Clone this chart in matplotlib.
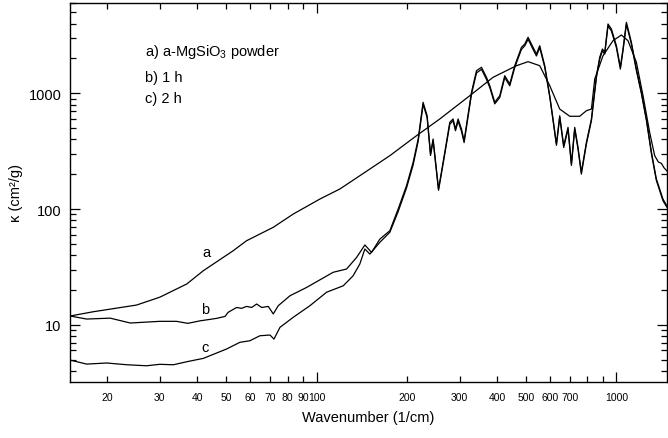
import matplotlib
matplotlib.use("Agg")
import matplotlib.pyplot as plt
from matplotlib.ticker import FixedLocator, FixedFormatter, NullFormatter

plt.rcParams['font.family'] = ['Liberation Sans', 'DejaVu Sans']
plt.rcParams['mathtext.fontset'] = 'custom'
plt.rcParams['mathtext.rm'] = 'Liberation Sans'
plt.rcParams['mathtext.it'] = 'Liberation Sans:italic'

# ---- data (wavenumber in 1/cm, kappa in cm^2/g) ----
a_x = [15.06, 18.0, 25.1, 30.0, 36.9, 41.9, 52.7, 58.4, 71.7, 83.6, 102.6, 119.6, 139.4,
       175.5, 215.4, 257.6, 324.3, 387.9, 464.2, 507.5, 555, 599.4, 647.1, 698.9, 754.6,
       794.3, 825.5, 846.8, 902.4, 974.2, 1039, 1093, 1166, 1227, 1291, 1342, 1380, 1413,
       1440, 1472]
a_y = [11.9, 12.95, 14.8, 17.3, 22.5, 29.3, 43.6, 53.2, 69.5, 90.5, 122, 149, 194,
       289, 430, 600, 953, 1375, 1732, 1876, 1732, 1163, 731, 633, 633,
       707, 731, 1329, 2113, 2849, 3190, 2849, 1854, 953, 460, 289, 255, 248,
       228, 214]

b_x = [15.06, 17.1, 20.5, 23.9, 30.0, 34.1, 37.2, 40.8, 46.4, 49.5, 50.7, 54.1, 56.2,
       58.4, 60.7, 63.1, 65.6, 69.0, 71.7, 74.5, 81.5, 92.6, 113.6, 125.9, 136, 144.9,
       152.5, 162.6, 175.5, 187.1, 199.5, 209.9, 218.2, 226.6, 233.7, 239.9, 244.7,
       255.1, 264.2, 278.2, 285.3, 290.6, 296.5, 304.3, 310.5, 328.6, 341.5, 354.8,
       368.7, 378.2, 392.9, 408.3, 424.3, 440.9, 458.1, 482.4, 494.8, 507.5, 527.2,
       541.2, 555, 576.8, 599.4, 614.6, 631, 647.1, 667.3, 689.7, 707.9, 726.1, 744.7,
       764.1, 794.3, 825.5, 857.8, 879.8, 898.2, 914.3, 937.6, 962.3, 1000, 1031, 1052,
       1080, 1122, 1166, 1212, 1259, 1309, 1359, 1430, 1472]
b_y = [11.9, 11.2, 11.4, 10.35, 10.7, 10.7, 10.28, 10.8, 11.35, 11.8, 12.8, 14.1, 13.85,
       14.4, 14.1, 15.1, 14.1, 14.4, 12.4, 14.6, 17.8, 21.0, 28.4, 30.3, 38.2, 48.9,
       42.2, 55.0, 64.9, 100, 159, 253, 403, 836, 640, 299, 403,
       149, 253, 562, 600, 491, 600, 491, 389, 1020, 1568, 1678,
       1375, 1163, 836, 953, 1419, 1203, 1732, 2498, 2668, 3048, 2498,
       2186, 2579, 1732, 953, 600, 365, 640, 352, 508, 245, 508, 341,
       208, 377, 600, 1419, 2047, 2415, 2261, 3972, 3594, 2579, 1678, 2415,
       4109, 2759, 1622, 1020, 600, 309, 182, 122, 107]

c_x = [15.06, 17.1, 19.95, 23.3, 27.1, 30.0, 33.3, 36.9, 41.9, 50.1, 55.5, 59.9, 64.7,
       69.9, 72.1, 75.5, 83.6, 95.0, 108.0, 122.7, 132.4, 139.4, 144.9, 150.6, 162.6,
       175.5, 187.1, 199.5, 209.9, 218.2, 226.6, 233.7, 239.9, 244.7,
       255.1, 264.2, 278.2, 285.3, 290.6, 296.5, 304.3, 310.5, 328.6, 341.5, 354.8,
       368.7, 378.2, 392.9, 408.3, 424.3, 440.9, 458.1, 482.4, 494.8, 507.5, 527.2,
       541.2, 555, 576.8, 599.4, 614.6, 631, 647.1, 667.3, 689.7, 707.9, 726.1, 744.7,
       764.1, 794.3, 825.5, 857.8, 879.8, 898.2, 914.3, 937.6, 962.3, 1000, 1031, 1052,
       1080, 1122, 1166, 1212, 1259, 1309, 1359, 1430, 1472]
c_y = [4.95, 4.57, 4.67, 4.51, 4.42, 4.55, 4.51, 4.79, 5.12, 6.17, 7.05, 7.27, 8.03,
       8.15, 7.52, 9.5, 11.6, 14.6, 19.1, 21.7, 26.5, 33.5, 45.1, 40.8, 51.6,
       62.9, 95, 152, 240, 385, 800, 620, 290, 390,
       145, 245, 540, 580, 475, 575, 470, 375, 980, 1500, 1610,
       1320, 1120, 810, 920, 1370, 1160, 1670, 2400, 2570, 2930, 2400,
       2100, 2480, 1680, 930, 585, 355, 620, 340, 490, 238, 490, 330,
       200, 365, 580, 1370, 1970, 2330, 2180, 3820, 3460, 2480, 1620, 2330,
       3950, 2660, 1570, 990, 585, 300, 177, 118, 104]

x_major = [100, 1000]
x_minor = [20, 30, 40, 50, 60, 70, 80, 90, 200, 300, 400, 500, 600, 700, 800, 900]
x_minor_labels = ['20', '30', '40', '50', '60', '70', '80', '90',
                  '200', '300', '400', '500', '600', '700', '', '']
y_major = [10, 100, 1000]
y_minor = [4, 5, 6, 7, 8, 9, 20, 30, 40, 50, 60, 70, 80, 90,
           200, 300, 400, 500, 600, 700, 800, 900, 2000, 3000, 4000, 5000, 6000]

legend_lines = ['a) a-MgSiO$_3$ powder', 'b) 1 h', 'c) 2 h']
curve_labels = [('a', 42.8, 42.3), ('b', 42.4, 13.7), ('c', 42.4, 6.38)]

# ---- figure ----
fig = plt.figure(figsize=(6.68, 4.39), dpi=100)
ax = fig.add_axes([70/668, 1 - 383/439, 597/668, 379/439])

lw = 0.9
ax.plot(a_x, a_y, color='black', lw=lw)
ax.plot(b_x, b_y, color='black', lw=lw)
ax.plot(c_x, c_y, color='black', lw=lw)

ax.set_xscale('log')
ax.set_yscale('log')
ax.set_xlim(15.05, 1475)
ax.set_ylim(3.2, 6030)

ax.xaxis.set_major_locator(FixedLocator(x_major))
ax.xaxis.set_major_formatter(FixedFormatter(['100', '1000']))
ax.xaxis.set_minor_locator(FixedLocator(x_minor))
ax.xaxis.set_minor_formatter(FixedFormatter(x_minor_labels))
ax.yaxis.set_major_locator(FixedLocator(y_major))
ax.yaxis.set_major_formatter(FixedFormatter(['10', '100', '1000']))
ax.yaxis.set_minor_locator(FixedLocator(y_minor))
ax.yaxis.set_minor_formatter(NullFormatter())

ax.tick_params(axis='x', which='both', direction='in', top=True, bottom=True,
               labelsize=7.5, pad=7, width=0.9)
ax.tick_params(axis='x', which='major', length=7)
ax.tick_params(axis='x', which='minor', length=4)
ax.tick_params(axis='y', which='both', direction='in', left=True, right=True,
               labelsize=10.5, pad=6, width=0.9)
ax.tick_params(axis='y', which='major', length=7)
ax.tick_params(axis='y', which='minor', length=4)

for s in ax.spines.values():
    s.set_linewidth(1.0)

ax.set_xlabel('Wavenumber (1/cm)', fontsize=10.5, labelpad=6)
ax.set_ylabel('κ (cm²/g)', fontsize=10.5, labelpad=4)

ys = [0.863, 0.795, 0.738]
for t, yy in zip(legend_lines, ys):
    ax.text(0.1256, yy, t, transform=ax.transAxes, fontsize=10.5, va='baseline', ha='left')

for t, xx, yy in curve_labels:
    ax.text(xx, yy, t, fontsize=10.5, ha='center', va='center')

fig.savefig('out.png', dpi=100)
